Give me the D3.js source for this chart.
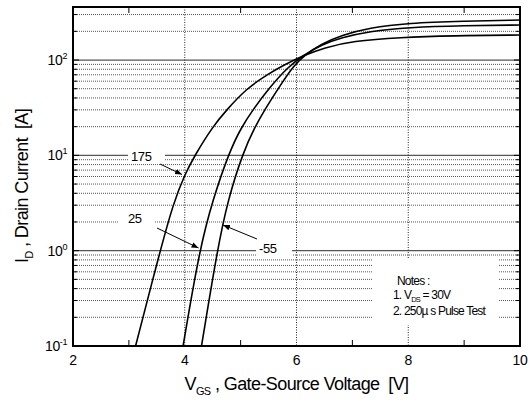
<!DOCTYPE html>
<html><head><meta charset="utf-8">
<script src="https://cdn.jsdelivr.net/npm/d3@7/dist/d3.min.js"></script>
<style>body{margin:0;background:#fff}svg{display:block}</style>
</head><body>
<svg id="c" width="530" height="401"></svg>
<script>
// ---- data ----
const xTickValues = [2, 4, 6, 8, 10];
const xMinorTicks = [3, 5, 7, 9];
const xGridValues = [4, 6, 8];
const yDecades = [0.1, 1, 10, 100];
const yDecadeExp = ["-1", "0", "1", "2"];
const temps = ["175", "25", "-55"];
const v175 = [3.12, 3.56, 3.8, 4.0, 4.18, 4.5, 4.75, 5.1, 5.5, 5.8, 6.1, 6.5, 7.0, 7.85, 8.8, 10];
const i175 = [0.1, 1, 3.2, 6.3, 10, 20, 30, 50, 72, 90, 110, 135, 158, 173, 180, 183];
const v25 = [3.97, 4.26, 4.5, 4.8, 5.02, 5.22, 5.5, 5.85, 6.12, 6.45, 6.8, 7.3, 8, 9, 10];
const i25 = [0.1, 1, 3.4, 11, 20, 30, 50, 85, 112, 145, 172, 200, 220, 230, 233];
const vm55 = [4.30, 4.58, 4.77, 5.05, 5.26, 5.43, 5.67, 5.95, 6.15, 6.45, 6.8, 7.3, 8, 9, 10];
const im55 = [0.1, 1, 3.4, 11, 20, 30, 50, 88, 113, 148, 182, 218, 245, 256, 263];

const svg = d3.select("#c");
const L = 73, R = 520, T = 7, B = 346;
const x = d3.scaleLinear().domain([2, 10]).range([L, R]);
const y = d3.scaleLog().domain([0.1, 360]).range([B, T]);
const FONT = "Liberation Sans, Arial, sans-serif";

// minor y values
const yMinor = [];
yDecades.forEach(d => { for (let k = 2; k <= 9; k++) { const v = d * k; if (v < 360) yMinor.push(v); } });

// grid
const g = svg.append("g");
g.selectAll(".ym").data(yMinor).enter().append("line")
  .attr("x1", L).attr("x2", R).attr("y1", d => y(d)).attr("y2", d => y(d))
  .attr("stroke", "#555").attr("stroke-width", 1).attr("stroke-dasharray", "1,1");
g.selectAll(".yM").data(yDecades.slice(1)).enter().append("line")
  .attr("x1", L).attr("x2", R).attr("y1", d => y(d)).attr("y2", d => y(d))
  .attr("stroke", "#555").attr("stroke-width", 1.3);
g.selectAll(".xg").data(xGridValues).enter().append("line")
  .attr("x1", d => x(d)).attr("x2", d => x(d)).attr("y1", T).attr("y2", B)
  .attr("stroke", "#222").attr("stroke-width", 1).attr("stroke-dasharray", "1,1.5");

// white boxes behind labels
const boxes = [
  [128, 148, 37, 15],
  [118, 212, 37, 16],
  [256, 243, 36, 16],
  [373, 258, 125, 67]
];
svg.selectAll(".bx").data(boxes).enter().append("rect")
  .attr("x", d => d[0]).attr("y", d => d[1]).attr("width", d => d[2]).attr("height", d => d[3])
  .attr("fill", "#fff");

// curves
const line = d3.line().x(d => x(d[0])).y(d => y(d[1])).curve(d3.curveBasis);
const series = [d3.zip(v175, i175), d3.zip(v25, i25), d3.zip(vm55, im55)];
svg.append("clipPath").attr("id", "cp").append("rect").attr("x", L).attr("y", T).attr("width", R - L).attr("height", B - T);
svg.append("g").attr("clip-path", "url(#cp)").selectAll("path").data(series).enter().append("path")
  .attr("d", line).attr("fill", "none").attr("stroke", "#000").attr("stroke-width", 1.6);

// ticks
const tk = svg.append("g").attr("stroke", "#000").attr("stroke-width", 1);
yMinor.concat(yDecades.slice(1)).forEach(v => {
  const len = yDecades.includes(v) ? 6 : 4;
  tk.append("line").attr("x1", L).attr("x2", L + len).attr("y1", y(v)).attr("y2", y(v));
  tk.append("line").attr("x1", R).attr("x2", R - len).attr("y1", y(v)).attr("y2", y(v));
});
xMinorTicks.forEach(v => {
  tk.append("line").attr("x1", x(v)).attr("x2", x(v)).attr("y1", B).attr("y2", B - 6);
  tk.append("line").attr("x1", x(v)).attr("x2", x(v)).attr("y1", T).attr("y2", T + 6);
});

// frame
svg.append("rect").attr("x", L).attr("y", T).attr("width", R - L).attr("height", B - T)
  .attr("fill", "none").attr("stroke", "#000").attr("stroke-width", 2);

// axis tick labels
svg.selectAll(".xl").data(xTickValues).enter().append("text")
  .attr("x", d => x(d)).attr("y", 365).attr("text-anchor", "middle")
  .attr("font-family", FONT).attr("font-size", 14).attr("letter-spacing", "-0.4px").text(d => d);
yDecades.forEach((v, i) => {
  const t = svg.append("text").attr("x", 67).attr("y", y(v) + 5).attr("text-anchor", "end")
    .attr("font-family", FONT).attr("font-size", 14).attr("letter-spacing", "-0.4px");
  t.append("tspan").text("10");
  t.append("tspan").attr("font-size", 9).attr("dy", -6).text(yDecadeExp[i]);
});

// axis titles
const xt = svg.append("text").attr("x", x(6)).attr("y", 390).attr("text-anchor", "middle")
  .attr("font-family", FONT).attr("font-size", 18).attr("letter-spacing", "-0.6px");
xt.append("tspan").text("V");
xt.append("tspan").attr("font-size", 11).attr("dy", 5).text("GS");
xt.append("tspan").attr("dy", -5).text(" , Gate-Source Voltage \u00a0[V]");

const yt = svg.append("text").attr("transform", "translate(28,186) rotate(-90)")
  .attr("text-anchor", "middle").attr("font-family", FONT).attr("font-size", 18).attr("letter-spacing", "-0.6px");
yt.append("tspan").text("I");
yt.append("tspan").attr("font-size", 11).attr("dy", 5).text("D");
yt.append("tspan").attr("dy", -5).text(" , Drain Current \u00a0[A]");

// temperature labels and arrows
const labelPos = [[131, 161], [128, 223], [259, 253]];
svg.selectAll(".tl").data(temps).enter().append("text")
  .attr("x", (d, i) => labelPos[i][0]).attr("y", (d, i) => labelPos[i][1])
  .attr("font-family", FONT).attr("font-size", 13).attr("letter-spacing", "-0.4px").text(d => d);

svg.append("defs").append("marker").attr("id", "ah").attr("viewBox", "0 0 10 10")
  .attr("refX", 10).attr("refY", 5).attr("markerWidth", 7).attr("markerHeight", 7)
  .attr("markerUnits", "userSpaceOnUse").attr("orient", "auto")
  .append("path").attr("d", "M0,1 L10,5 L0,9 Z").attr("fill", "#000");
const arrows = [[160, 164, 182, 174.5], [157, 228, 198.5, 248], [257, 239, 223, 225]];
svg.selectAll(".ar").data(arrows).enter().append("line")
  .attr("x1", d => d[0]).attr("y1", d => d[1]).attr("x2", d => d[2]).attr("y2", d => d[3])
  .attr("stroke", "#000").attr("stroke-width", 1).attr("marker-end", "url(#ah)");

// notes
const nt = svg.append("g").attr("font-family", FONT).attr("font-size", 12).attr("letter-spacing", "-0.8px");
nt.append("text").attr("x", 397).attr("y", 285).text("Notes :");
const n1 = nt.append("text").attr("x", 393).attr("y", 299);
n1.append("tspan").text("1. V");
n1.append("tspan").attr("font-size", 7.5).attr("dy", 3).text("DS");
n1.append("tspan").attr("dy", -3).text(" = 30V");
nt.append("text").attr("x", 393).attr("y", 315).text("2. 250\u00b5 s Pulse Test");
</script>
</body></html>
